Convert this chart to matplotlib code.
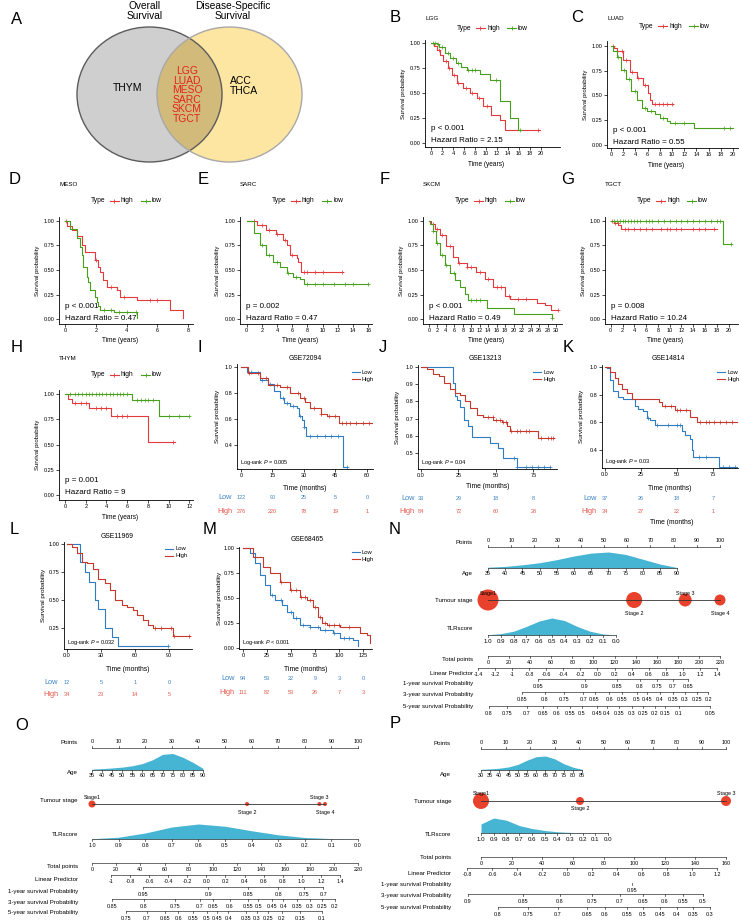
import numpy as np
import matplotlib.pyplot as plt
from matplotlib.lines import Line2D
from matplotlib.patches import Ellipse
import matplotlib.transforms as mtransforms

plt.rcParams['font.family'] = ['Liberation Sans', 'DejaVu Sans']
plt.rcParams['mathtext.fontset'] = 'custom'
plt.rcParams['mathtext.rm'] = 'Liberation Sans'
plt.rcParams['mathtext.it'] = 'Liberation Sans:italic'

# ---------------- Venn (panel A) ----------------
venn_left = 'THYM'
venn_both = ['LGG', 'LUAD', 'MESO', 'SARC', 'SKCM', 'TGCT']
venn_right = ['ACC', 'THCA']

# ---------------- TCGA survival curves (years) ----------------
lgg_high_t = [0, 0.5, 1.0, 1.6, 2.2, 3.0, 3.8, 4.7, 5.9, 7.1, 8.3, 9.5, 11.0, 12.5, 13.5, 19.8]
lgg_high_s = [1, 0.97, 0.93, 0.88, 0.82, 0.75, 0.68, 0.60, 0.55, 0.50, 0.45, 0.37, 0.28, 0.23, 0.13, 0.13]
lgg_low_t = [0, 1.0, 1.5, 2.5, 3.5, 4.5, 5.5, 6.5, 8.9, 10.7, 12.6, 14.4, 15.9, 16.5]
lgg_low_s = [1, 0.99, 0.96, 0.90, 0.85, 0.80, 0.76, 0.73, 0.69, 0.63, 0.42, 0.25, 0.13, 0.13]
lgg_high_c = [1.5, 2.7, 3.3, 4.2, 5.0, 6.3, 7.5, 8.7, 10.2, 19.5]
lgg_low_c = [0.3, 0.7, 1.2, 2.0, 3.0, 4.0, 5.0, 6.8, 7.4, 8.0, 11.8, 16.3]

luad_high_t = [0, 0.5, 0.9, 2.0, 3.1, 4.2, 5.3, 6.1, 6.4, 6.7, 10.2]
luad_high_s = [1, 0.98, 0.95, 0.86, 0.74, 0.67, 0.60, 0.52, 0.45, 0.41, 0.41]
luad_low_t = [0, 0.4, 0.9, 1.7, 2.5, 3.3, 4.2, 5.0, 5.9, 7.2, 8.0, 9.1, 9.7, 13.6, 20.0]
luad_low_s = [1, 0.95, 0.89, 0.76, 0.66, 0.54, 0.45, 0.37, 0.34, 0.31, 0.27, 0.24, 0.22, 0.175, 0.175]
luad_high_c = [0.3, 1.0, 1.8, 2.5, 3.5, 4.5, 5.5, 7.2, 7.8, 8.5, 9.2, 10.0]
luad_low_c = [1.2, 2.2, 3.0, 4.0, 5.5, 6.5, 8.5, 10.5, 12.0, 18.5, 19.5]

meso_high_t = [0, 0.1, 0.43, 0.76, 1.08, 1.3, 1.95, 2.16, 2.27, 2.49, 2.71, 3.36, 3.57, 4.66, 6.82, 7.64]
meso_high_s = [1, 0.95, 0.905, 0.84, 0.75, 0.68, 0.60, 0.53, 0.48, 0.40, 0.33, 0.30, 0.23, 0.20, 0.095, 0.01]
meso_low_t = [0, 0.3, 0.76, 1.0, 1.08, 1.2, 1.4, 1.5, 1.6, 1.95, 2.05, 2.16, 2.3, 3.2, 4.66]
meso_low_s = [1, 0.92, 0.82, 0.73, 0.65, 0.53, 0.43, 0.38, 0.30, 0.23, 0.18, 0.13, 0.095, 0.075, 0.01]
meso_high_c = [0.05, 2.0, 3.0, 3.8, 5.5, 6.0]
meso_low_c = [2.5, 3.0, 3.5, 4.0, 4.6]

sarc_high_t = [0, 1.3, 2.6, 3.9, 4.8, 5.3, 5.7, 6.6, 6.8, 7.2, 12.7]
sarc_high_s = [1, 0.96, 0.91, 0.86, 0.80, 0.75, 0.65, 0.62, 0.58, 0.48, 0.48]
sarc_low_t = [0, 0.9, 1.75, 2.6, 3.5, 4.4, 5.3, 6.1, 7.0, 7.5, 16.0]
sarc_low_s = [1, 0.87, 0.75, 0.65, 0.58, 0.53, 0.47, 0.43, 0.41, 0.36, 0.36]
sarc_high_c = [1.0, 2.0, 3.0, 4.0, 5.0, 6.0, 7.5, 8.0, 9.0, 10.0, 12.5]
sarc_low_c = [2.0, 3.0, 4.0, 5.5, 6.5, 8.0, 9.0, 10.0, 11.5, 13.0, 14.0, 16.0]

skcm_high_t = [0, 0.5, 1.35, 2.5, 4.1, 5.7, 6.9, 8.9, 11.2, 13.2, 15.2, 18.0, 19.2, 25.5, 27.5, 28.7, 30.2]
skcm_high_s = [1, 0.97, 0.92, 0.85, 0.74, 0.63, 0.57, 0.53, 0.48, 0.41, 0.33, 0.24, 0.21, 0.16, 0.14, 0.09, 0.09]
skcm_low_t = [0, 0.3, 0.95, 1.7, 2.5, 3.7, 4.9, 6.1, 7.3, 8.5, 9.3, 13.6, 20.0, 29.0]
skcm_low_s = [1, 0.97, 0.90, 0.77, 0.65, 0.55, 0.47, 0.40, 0.33, 0.26, 0.20, 0.11, 0.05, 0.01]
skcm_high_c = [1, 2, 3, 5, 7, 9, 10, 12, 14, 16, 17, 19, 21, 23, 30.5]
skcm_low_c = [1, 2, 3, 4, 6, 10, 11, 12, 29]

tgct_high_t = [0, 0.6, 1.3, 1.8, 18.0]
tgct_high_s = [1, 0.98, 0.96, 0.92, 0.92]
tgct_low_t = [0, 19.0, 20.4]
tgct_low_s = [1, 0.76, 0.76]
tgct_high_c = [0.3, 0.8, 1.2, 2.5, 3, 4, 5, 6, 7, 8.5, 9.5, 10, 11, 12, 14, 15, 16, 17.5]
tgct_low_c = [0.5, 1, 1.5, 2, 2.5, 3, 3.5, 4, 4.5, 5, 6, 6.5, 7, 8, 9, 10, 11, 12, 13, 14, 15, 16, 17, 18, 18.5, 20.4]

thym_high_t = [0, 0.3, 0.64, 2.3, 4.4, 8.0, 10.6]
thym_high_s = [1, 0.95, 0.91, 0.86, 0.78, 0.53, 0.53]
thym_low_t = [0, 6.43, 9.1, 12.0]
thym_low_s = [1, 0.94, 0.78, 0.78]
thym_high_c = [1.0, 1.5, 2.0, 3.0, 3.5, 4.0, 5.0, 5.5, 6.0, 10.4]
thym_low_c = [0.5, 1, 1.3, 1.6, 2, 2.3, 2.6, 3, 3.3, 3.6, 4, 4.3, 4.6, 5, 5.3, 5.6, 6, 7, 7.3, 7.7, 8, 8.5, 10, 11, 12]

# ---------------- GEO survival curves (months) ----------------
g72_low_t = [0, 2.7, 9.1, 13.1, 15.5, 18.7, 20.3, 23.5, 26.7, 27.5, 29.1, 29.9, 31.2, 48.8, 50.7]
g72_low_s = [1, 0.96, 0.90, 0.87, 0.81, 0.76, 0.72, 0.70, 0.68, 0.62, 0.59, 0.54, 0.47, 0.233, 0.233]
g72_high_t = [0, 3.3, 9.0, 13.0, 18.7, 23.5, 28.3, 30.7, 33.1, 37.9, 41.1, 46.7, 62.7]
g72_high_s = [1, 0.95, 0.91, 0.86, 0.84, 0.80, 0.76, 0.73, 0.68, 0.64, 0.62, 0.57, 0.57]
g72_low_c = [5, 10, 14, 20, 22, 25, 28, 30, 33, 36, 40, 43, 46, 50.5]
g72_high_c = [4, 8, 12, 17, 22, 27, 30, 35, 38, 42, 45, 48, 50, 52, 55, 58, 61]
g72_risk_t = [0, 15, 30, 45, 60]
g72_risk_low = [122, 90, 25, 5, 0]
g72_risk_high = [276, 220, 78, 19, 1]

g13_low_t = [0, 21.1, 22.7, 24.2, 26.0, 28.7, 31.6, 33.8, 46.0, 51.6, 54.9, 63.8, 86.0]
g13_low_s = [1, 0.905, 0.83, 0.81, 0.77, 0.69, 0.66, 0.595, 0.556, 0.53, 0.47, 0.42, 0.42]
g13_high_t = [0, 4.0, 8.2, 12.0, 15.5, 19.3, 22.7, 26.0, 29.3, 32.7, 37.1, 41.6, 48.2, 53.8, 57.1, 59.3, 78.1, 89.0]
g13_high_s = [1, 0.99, 0.96, 0.95, 0.905, 0.87, 0.85, 0.84, 0.80, 0.76, 0.72, 0.71, 0.69, 0.68, 0.66, 0.63, 0.59, 0.59]
g13_low_c = [62, 64, 70, 74, 78, 82, 86]
g13_high_c = [45, 48, 50, 53, 55, 57, 60, 64, 66, 70, 72, 80, 85, 87, 88]
g13_risk_t = [0, 25, 50, 75]
g13_risk_low = [33, 29, 18, 8]
g13_risk_high = [84, 72, 60, 28]

g14_low_t = [0, 1.2, 3.5, 5.8, 9.3, 12.7, 20.8, 23.1, 26.6, 28.9, 31.3, 34.7, 53.2, 55.6, 59.0, 60.2, 61.3, 79.4, 91.4]
g14_low_s = [1, 0.99, 0.906, 0.83, 0.785, 0.77, 0.72, 0.70, 0.68, 0.63, 0.62, 0.58, 0.54, 0.51, 0.48, 0.40, 0.35, 0.28, 0.28]
g14_high_t = [0, 3.5, 6.9, 9.3, 11.6, 15.0, 18.5, 37.5, 39.8, 48.6, 59.0, 63.6, 91.4]
g14_high_s = [1, 0.966, 0.92, 0.88, 0.845, 0.81, 0.77, 0.75, 0.72, 0.69, 0.64, 0.60, 0.60]
g14_low_c = [30, 36, 44, 50, 52, 65, 70, 82, 86, 90]
g14_high_c = [42, 46, 50, 52, 56, 66, 70, 72, 76, 80, 84, 88]
g14_risk_t = [0, 25, 50, 75]
g14_risk_low = [37, 26, 18, 7]
g14_risk_high = [34, 27, 22, 1]

g11_low_t = [0, 11.5, 15.9, 19.7, 24.7, 27.7, 33.5, 39.4, 45.3, 89.4]
g11_low_s = [1, 0.836, 0.75, 0.66, 0.50, 0.42, 0.25, 0.17, 0.09, 0.09]
g11_high_t = [0, 4.2, 8.6, 13.0, 17.4, 23.2, 27.7, 33.5, 38.0, 42.3, 48.2, 52.6, 58.5, 61.5, 67.4, 71.8, 76.2, 93.9, 108.6]
g11_high_s = [1, 0.97, 0.917, 0.84, 0.83, 0.78, 0.69, 0.65, 0.59, 0.50, 0.455, 0.44, 0.41, 0.37, 0.32, 0.28, 0.25, 0.18, 0.18]
g11_low_c = [89.4]
g11_high_c = [78, 83, 92, 94, 108]
g11_risk_t = [0, 30, 60, 90]
g11_risk_low = [12, 5, 1, 0]
g11_risk_high = [34, 23, 14, 5]

g68_low_t = [0, 7.3, 12.5, 17.7, 22.9, 28.1, 33.3, 40.3, 45.5, 52.4, 59.4, 69.8, 80.2, 94.1, 101.0, 114.9, 120.1]
g68_low_s = [1, 0.947, 0.847, 0.73, 0.63, 0.53, 0.48, 0.43, 0.36, 0.30, 0.23, 0.21, 0.18, 0.15, 0.10, 0.08, 0.02]
g68_high_t = [0, 10.8, 21.2, 28.1, 38.5, 49.0, 59.4, 66.3, 73.3, 78.5, 81.9, 87.2, 101.0, 121.9, 128.8, 132.3]
g68_high_s = [1, 0.913, 0.813, 0.747, 0.663, 0.58, 0.513, 0.48, 0.413, 0.313, 0.247, 0.23, 0.207, 0.147, 0.13, 0.047]
g68_low_c = [30, 40, 50, 55, 62, 70, 78, 85, 95, 105, 110]
g68_high_c = [40, 50, 55, 60, 65, 70, 75, 80, 85, 90, 95, 100, 110]
g68_risk_t = [0, 25, 50, 75, 100, 125]
g68_risk_low = [94, 53, 22, 9, 3, 0]
g68_risk_high = [111, 82, 53, 26, 7, 3]

# ---------------- Nomograms ----------------
# N
n_age_vals = [35, 40, 45, 50, 55, 60, 65, 70, 75, 80, 85, 90]
n_age_dens = [0.05, 0.1, 0.2, 0.33, 0.52, 0.75, 0.93, 1.0, 0.85, 0.55, 0.25, 0.03]
n_age_pts_end = 81.5
n_stage_names = ['Stage1', 'Stage 2', 'Stage 3', 'Stage 4']
n_stage_pts = [0, 63, 85, 100]
n_stage_r = [10.5, 8, 6.5, 5.5]
n_tlr_vals = [1.0, 0.9, 0.8, 0.7, 0.6, 0.5, 0.4, 0.3, 0.2, 0.1, 0.0]
n_tlr_dens = [0.02, 0.08, 0.22, 0.5, 0.82, 1.0, 0.85, 0.5, 0.22, 0.06, 0.01]
n_tlr_pts_end = 55
n_total_max = 220
n_lp_labels = ['-1.4', '-1.2', '-1', '-0.8', '-0.6', '-0.4', '-0.2', '0.0', '0.2', '0.4', '0.6', '0.8', '1.0', '1.2', '1.4']
n_lp_total_end = [-9.5, 217.1]
n_1y_vals = [0.95, 0.9, 0.85, 0.8, 0.75, 0.7, 0.65]
n_1y_total = [47.4, 92, 122.3, 144.1, 160.2, 175.4, 189.6]
n_3y_vals = [0.85, 0.8, 0.75, 0.7, 0.65, 0.6, 0.55, 0.5, 0.45, 0.4, 0.35, 0.3, 0.25, 0.2]
n_3y_total = [31.9, 54, 72.3, 90.3, 101, 115, 127, 141, 151, 163, 175.7, 186.8, 197.8, 208.8]
n_5y_vals = [0.8, 0.75, 0.7, 0.65, 0.6, 0.55, 0.5, 0.45, 0.4, 0.35, 0.3, 0.25, 0.2, 0.15, 0.1, 0.05]
n_5y_total = [0.9, 18, 37, 52.1, 65.4, 77.7, 89.1, 103.3, 112.8, 124.2, 136.5, 146.9, 158.3, 167.8, 181.1, 210.5]

# O
o_age_vals = [35, 40, 45, 50, 55, 60, 65, 70, 75, 80, 85, 90]
o_age_dens = [0.05, 0.08, 0.12, 0.17, 0.25, 0.38, 0.6, 0.92, 0.97, 0.75, 0.45, 0.1]
o_age_pts_end = 41.7
o_stage_names = ['Stage1', 'Stage 2', 'Stage 3', 'Stage 4']
o_stage_pts = [0, 58.3, 85.5, 87.6]
o_stage_r = [3.5, 2, 2, 2]
o_tlr_vals = [1.0, 0.9, 0.8, 0.7, 0.6, 0.5, 0.4, 0.3, 0.2, 0.1, 0.0]
o_tlr_dens = [0.02, 0.12, 0.4, 0.8, 1.0, 0.85, 0.55, 0.28, 0.1, 0.03, 0.0]
o_tlr_pts_end = 100
o_total_max = 220
o_lp_labels = ['-1', '-0.8', '-0.6', '-0.4', '-0.2', '0.0', '0.2', '0.4', '0.6', '0.8', '1.0', '1.2', '1.4']
o_lp_total_end = [15.7, 205.1]
o_1y_vals = [0.95, 0.9, 0.85, 0.8, 0.75, 0.7]
o_1y_total = [42.4, 96.2, 129.3, 154.1, 175.6, 191.3]
o_3y_vals = [0.85, 0.8, 0.75, 0.7, 0.65, 0.6, 0.55, 0.5, 0.45, 0.4, 0.35, 0.3, 0.25, 0.2]
o_3y_total = [16.3, 43, 68.6, 89.3, 100.3, 114.1, 129.3, 137.5, 148.6, 158.2, 169.3, 180.3, 189.9, 201]
o_5y_vals = [0.75, 0.7, 0.65, 0.6, 0.55, 0.5, 0.45, 0.4, 0.35, 0.3, 0.25, 0.2, 0.15, 0.1]
o_5y_total = [28.1, 45.2, 60.4, 71.4, 83.8, 94.9, 103.1, 112.7, 127.4, 136.2, 145.8, 156.9, 172, 190]

# P
p_age_vals = [30, 35, 40, 45, 50, 55, 60, 65, 70, 75, 80, 85]
p_age_dens = [0.05, 0.08, 0.13, 0.22, 0.4, 0.7, 0.95, 1.0, 0.8, 0.45, 0.2, 0.05]
p_age_pts_end = 41.3
p_stage_names = ['Stage1', 'Stage 2', 'Stage 3']
p_stage_pts = [0, 40.4, 100]
p_stage_r = [8, 4, 5]
p_tlr_vals = [1.0, 0.9, 0.8, 0.7, 0.6, 0.5, 0.4, 0.3, 0.2, 0.1, 0.0]
p_tlr_dens = [0.6, 1.0, 0.85, 0.5, 0.3, 0.17, 0.08, 0.04, 0.02, 0.01, 0.0]
p_tlr_pts_end = 51.9
p_total_max = 160
p_lp_labels = ['-0.8', '-0.6', '-0.4', '-0.2', '0.0', '0.2', '0.4', '0.6', '0.8', '1.0', '1.2']
p_lp_total_end = [-9.1, 154.1]
p_1y_vals = [0.95]
p_1y_total = [98.6]
p_3y_vals = [0.9, 0.85, 0.8, 0.75, 0.7, 0.65, 0.6, 0.55, 0.5]
p_3y_total = [-8.5, 27.4, 51.6, 72.5, 90.8, 105.8, 120.2, 131.9, 145]
p_5y_vals = [0.8, 0.75, 0.7, 0.65, 0.6, 0.55, 0.5, 0.45, 0.4, 0.35, 0.3]
p_5y_total = [11.1, 30.7, 50.3, 69.2, 81, 95.3, 105.8, 116.9, 128, 138.4, 149.5]

RED = '#E4393C'
GREEN = '#46A01C'
G_BLUE = '#2F7DC0'
G_RED = '#C6372C'
R_BLUE = '#3D84C6'
R_RED = '#E5574C'
DENS = '#46B4D3'
STAGE = '#E8412C'

W, H = 741, 922
fig = plt.figure(figsize=(W / 100, H / 100), dpi=100)


def px_axes(x0, y0, x1, y1):
    ax = fig.add_axes([x0 / W, 1 - y1 / H, (x1 - x0) / W, (y1 - y0) / H])
    ax.patch.set_alpha(0)
    return ax


def T(x, y, s, size=5, **kw):
    kw.setdefault('ha', 'center')
    kw.setdefault('va', 'center')
    fig.text(x / W, 1 - y / H, s, fontsize=size, **kw)


def hline(x0, x1, y, color, lw=0.8, marker=None):
    fig.add_artist(Line2D([x0 / W, x1 / W], [1 - y / H] * 2, transform=fig.transFigure,
                          color=color, lw=lw))
    if marker:
        fig.add_artist(Line2D([(x0 + x1) / 2 / W], [1 - y / H], transform=fig.transFigure,
                              color=color, marker=marker, ms=3, mew=0.6, lw=0))


def step_at(t, s, c):
    t = np.asarray(t)
    s = np.asarray(s)
    idx = np.searchsorted(t, c, side='right') - 1
    return s[np.clip(idx, 0, len(s) - 1)]


def style_axes(ax, lw=0.6):
    for sp in ['top', 'right']:
        ax.spines[sp].set_visible(False)
    for sp in ['left', 'bottom']:
        ax.spines[sp].set_linewidth(lw)
    ax.tick_params(labelsize=4.0, length=2, width=0.5, pad=1)


# ---------------- panel A ----------------
ax = px_axes(0, 0, 370, 180)
ax.set_xlim(0, 370)
ax.set_ylim(180, 0)
ax.axis('off')
gray = Ellipse((149.5, 94.5), 145, 135, fc='#CFCFCF', ec='none')
yellow = Ellipse((229.5, 94.5), 145, 135, fc='#FDE6A2', ec='none')
ax.add_patch(gray)
ax.add_patch(yellow)
over = Ellipse((149.5, 94.5), 145, 135, fc='#D2BA7A', ec='none')
ax.add_patch(over)
over.set_clip_path(yellow)
ax.add_patch(Ellipse((149.5, 94.5), 145, 135, fill=False, ec='#5C5C5C', lw=1))
ax.add_patch(Ellipse((229.5, 94.5), 145, 135, fill=False, ec='#A8A8A8', lw=1))
ax.text(145, 11, 'Overall\nSurvival', ha='center', va='center', fontsize=7.3, linespacing=0.95)
ax.text(233, 11, 'Disease-Specific\nSurvival', ha='center', va='center', fontsize=7.3, linespacing=0.95)
ax.text(128, 88, venn_left, ha='center', va='center', fontsize=7.5)
ax.text(230, 86, '\n'.join(venn_right), ha='left', va='center', fontsize=7.5, linespacing=0.95)
ax.text(187, 95, '\n'.join(venn_both), ha='center', va='center', fontsize=7.5,
        color='#E0251E', linespacing=0.95)


# ---------------- TCGA KM panels ----------------
def tcga_km(rect, xlim, ylim, xticks, title, t_off, lg_off, high, low, c_high, c_low,
            ptxt, hrtxt, ann_dy=(18, 6)):
    x0, y0, x1, y1 = rect
    ax = px_axes(*rect)
    for (t, s), cens, col in [(high, c_high, RED), (low, c_low, GREEN)]:
        ax.step(t, s, where='post', color=col, lw=0.8)
        ax.plot(cens, step_at(t, s, cens), '+', color=col, ms=2.6, mew=0.5)
    ax.set_xlim(*xlim)
    ax.set_ylim(*ylim)
    ax.set_xticks(xticks)
    ax.set_yticks([0, 0.25, 0.5, 0.75, 1.0])
    ax.set_yticklabels(['0.00', '0.25', '0.50', '0.75', '1.00'])
    style_axes(ax)
    T(x0 - 22, (y0 + y1) / 2, 'Survival probability', size=4.3, rotation=90)
    T((x0 + x1) / 2 - 6, y1 + 17, 'Time (years)', size=4.7)
    T(x0, y0 - t_off, title, size=4.5, ha='left')
    ly = y0 - lg_off
    T(x0 + 32, ly, 'Type', size=4.8, ha='left')
    hline(x0 + 51, x0 + 60, ly, RED, marker='+')
    T(x0 + 62, ly, 'high', size=4.8, ha='left')
    hline(x0 + 82, x0 + 91, ly, GREEN, marker='+')
    T(x0 + 93, ly, 'low', size=4.8, ha='left')
    T(x0 + 6, y1 - ann_dy[0], ptxt, size=5.8, ha='left')
    T(x0 + 6, y1 - ann_dy[1], hrtxt, size=5.8, ha='left')
    return ax


tcga_km((425, 40, 560, 147), (-1.1, 23.5), (-0.04, 1.033), range(0, 21, 2), 'LGG', 21, 12,
        (lgg_high_t, lgg_high_s), (lgg_low_t, lgg_low_s), lgg_high_c, lgg_low_c,
        'p < 0.001', 'Hazard Ratio = 2.15')
tcga_km((607, 41, 738, 148), (-0.66, 20.8), (-0.03, 1.047), range(0, 21, 2), 'LUAD', 22, 15,
        (luad_high_t, luad_high_s), (luad_low_t, luad_low_s), luad_high_c, luad_low_c,
        'p < 0.001', 'Hazard Ratio = 0.55')
tcga_km((59, 217, 193, 324), (-0.39, 8.31), (-0.048, 1.037), range(0, 9, 2), 'MESO', 32, 16,
        (meso_high_t, meso_high_s), (meso_low_t, meso_low_s), meso_high_c, meso_low_c,
        'p < 0.001', 'Hazard Ratio = 0.47')
tcga_km((240, 217, 372, 324), (-0.88, 16.5), (-0.048, 1.037), range(0, 17, 2), 'SARC', 32, 16,
        (sarc_high_t, sarc_high_s), (sarc_low_t, sarc_low_s), sarc_high_c, sarc_low_c,
        'p = 0.002', 'Hazard Ratio = 0.47')
tcga_km((423, 217, 562, 324), (-1.4, 31.4), (-0.048, 1.037), range(0, 31, 2), 'SKCM', 32, 16,
        (skcm_high_t, skcm_high_s), (skcm_low_t, skcm_low_s), skcm_high_c, skcm_low_c,
        'p < 0.001', 'Hazard Ratio = 0.49')
tcga_km((605, 217, 738, 324), (-0.97, 21.6), (-0.048, 1.037), range(0, 21, 2), 'TGCT', 32, 16,
        (tgct_high_t, tgct_high_s), (tgct_low_t, tgct_low_s), tgct_high_c, tgct_low_c,
        'p = 0.008', 'Hazard Ratio = 10.24')
tcga_km((59, 390, 193, 500), (-0.58, 12.36), (-0.05, 1.043), range(0, 13, 2), 'THYM', 31, 15,
        (thym_high_t, thym_high_s), (thym_low_t, thym_low_s), thym_high_c, thym_low_c,
        'p = 0.001', 'Hazard Ratio = 9', ann_dy=(20, 8))


# ---------------- GEO KM panels ----------------
def geo_km(rect, xlim, ylim, xticks, xtl, yticks, ytl, title, title_xy, low, high, c_low, c_high,
           lr_txt, leg_xy, risk_t, r_low, r_high, risk_x, risk_y, time_y):
    x0, y0, x1, y1 = rect
    ax = px_axes(*rect)
    for (t, s), cens, col in [(low, c_low, G_BLUE), (high, c_high, G_RED)]:
        ax.step(t, s, where='post', color=col, lw=0.8)
        ax.plot(cens, step_at(t, s, cens), '+', color=col, ms=2.4, mew=0.5)
    ax.set_xlim(*xlim)
    ax.set_ylim(*ylim)
    ax.set_xticks(xticks)
    ax.set_xticklabels(xtl)
    ax.set_yticks(yticks)
    ax.set_yticklabels(ytl)
    style_axes(ax)
    T(x0 - 20, (y0 + y1) / 2, 'Survival probability', size=4.6, rotation=90)
    T((x0 + x1) / 2, time_y, 'Time (months)', size=4.9)
    T(title_xy[0], title_xy[1], title, size=4.9)
    ax.text(0.02, 0.06, lr_txt, transform=ax.transAxes, fontsize=4.0, ha='left', va='center')
    lx, ly = leg_xy
    hline(lx, lx + 8, ly, G_BLUE)
    T(lx + 10, ly, 'Low', size=4.2, ha='left')
    hline(lx, lx + 8, ly + 7, G_RED)
    T(lx + 10, ly + 7, 'High', size=4.2, ha='left')
    tr = mtransforms.blended_transform_factory(ax.transData, fig.transFigure)
    for vals, col, yy, name in [(r_low, R_BLUE, risk_y[0], 'Low'), (r_high, R_RED, risk_y[1], 'High')]:
        T(risk_x, yy, name, size=5.3, ha='right', color=col)
        for tt, v in zip(risk_t, vals):
            ax.text(tt, 1 - yy / H, str(v), transform=tr, fontsize=4.0, color=col,
                    ha='center', va='center', clip_on=False)
    return ax


geo_km((237, 364, 373, 469), (-1.9, 62.9), (0.215, 1.02), g72_risk_t, [str(v) for v in g72_risk_t],
       [0.4, 0.6, 0.8, 1.0], ['0.4', '0.6', '0.8', '1.0'], 'GSE72094', (305, 358),
       (g72_low_t, g72_low_s), (g72_high_t, g72_high_s), g72_low_c, g72_high_c,
       'Log-rank $\\mathit{P}$ = 0.005', (352, 372), g72_risk_t, g72_risk_low, g72_risk_high,
       232, (497, 511), 488)
geo_km((418, 365, 557, 469), (-2, 90.7), (0.407, 1.012), [0, 25, 50, 75], ['0.0', '25', '50', '75'],
       [0.5, 0.6, 0.7, 0.8, 0.9, 1.0], ['0.5', '0.6', '0.7', '0.8', '0.9', '1.0'], 'GSE13213', (485, 358),
       (g13_low_t, g13_low_s), (g13_high_t, g13_high_s), g13_low_c, g13_high_c,
       'Log-rank $\\mathit{P}$ = 0.04', (533, 372), g13_risk_t, g13_risk_low, g13_risk_high,
       415, (498, 511), 486)
geo_km((602, 365, 738, 468), (-2.1, 92.4), (0.27, 1.015), [0, 25, 50, 75], ['0.0', '25', '50', '75'],
       [0.4, 0.6, 0.8, 1.0], ['0.4', '0.6', '0.8', '1.0'], 'GSE14814', (668, 358),
       (g14_low_t, g14_low_s), (g14_high_t, g14_high_s), g14_low_c, g14_high_c,
       'Log-rank $\\mathit{P}$ = 0.03', (717, 372), g14_risk_t, g14_risk_low, g14_risk_high,
       597, (498, 511), 488)
T(672, 522, 'Time (months)', size=4.9)
geo_km((64, 542, 192, 649), (-2.6, 110.3), (0.0625, 1.018), [0, 30, 60, 90], ['0.0', '30', '60', '90'],
       [0.25, 0.5, 0.75, 1.0], ['0.25', '0.50', '0.75', '1.00'], 'GSE11969', (117, 537),
       (g11_low_t, g11_low_s), (g11_high_t, g11_high_s), g11_low_c, g11_high_c,
       'Log-rank $\\mathit{P}$ = 0.032', (165, 549), g11_risk_t, g11_risk_low, g11_risk_high,
       58, (682, 694), 669)
geo_km((239, 547, 372, 649), (-4.2, 134.4), (-0.01, 1.01), g68_risk_t, [str(v) for v in g68_risk_t],
       [0, 0.25, 0.5, 0.75, 1.0], ['0.00', '0.25', '0.50', '0.75', '1.00'], 'GSE68465', (307, 539),
       (g68_low_t, g68_low_s), (g68_high_t, g68_high_s), g68_low_c, g68_high_c,
       'Log-rank $\\mathit{P}$ < 0.001', (352, 552), g68_risk_t, g68_risk_low, g68_risk_high,
       235, (678, 692), 669)


# ---------------- nomograms ----------------
def lin(v, v0, v1, p0, p1):
    return p0 + (np.asarray(v, dtype=float) - v0) / (v1 - v0) * (p1 - p0)


def scale(ax, pos, labels, y, up=False, dy=6, fs=3.9, line=True, col='#333333'):
    if line:
        ax.plot([min(pos), max(pos)], [y, y], color=col, lw=0.5, clip_on=False)
    d = -1 if up else 1
    for p, s in zip(pos, labels):
        ax.plot([p, p], [y, y + 1.8 * d], color=col, lw=0.5, clip_on=False)
        ax.text(p, y + dy * d, s, ha='center', va='center', fontsize=fs, clip_on=False)


def nomogram(x0, x100, y0, y1, lab_x, rows, age, stage, tlr, tmax, lp, y1s, y3s, y5s):
    ax = px_axes(x0, y0, x100, y1)
    ax.set_xlim(0, 100)
    ax.set_ylim(y1, y0)
    ax.axis('off')
    fs_lab = 4.4

    def label(y, s):
        ax.text(lab_x, y, s, ha='right', va='center', fontsize=fs_lab, clip_on=False)

    # Points
    label(rows['points'][0], 'Points')
    pp = list(range(0, 101, 10))
    scale(ax, pp, [str(v) for v in pp], rows['points'][1], up=True, dy=7)
    # Age
    vals, dens, pend, hmax = age
    pos = lin(vals, vals[0], vals[-1], 0, pend)
    base = rows['age'][1]
    ax.fill_between(pos, base, base - hmax * np.asarray(dens), color=DENS, lw=0, clip_on=False)
    scale(ax, pos, [str(v) for v in vals], base, dy=5.5)
    label(rows['age'][0], 'Age')
    # Tumour stage
    names, spts, srad, offs = stage
    ys = rows['stage'][1]
    ax.scatter(spts, [ys] * len(spts), s=[(2 * r * 0.72) ** 2 for r in srad], color=STAGE,
               lw=0, zorder=2, clip_on=False)
    ax.plot([0, max(spts)], [ys, ys], color='#333333', lw=0.6, zorder=3, clip_on=False)
    for i, (nm, p) in enumerate(zip(names, spts)):
        dy = -offs[0] if i % 2 == 0 else offs[1]
        ax.text(p, ys + dy, nm, ha='center', va='center', fontsize=3.9, clip_on=False)
    label(rows['stage'][0], 'Tumour stage')
    # TLRscore
    vals, dens, pend, hmax = tlr
    pos = lin(vals, 1.0, 0.0, 0, pend)
    base = rows['tlr'][1]
    ax.fill_between(pos, base, base - hmax * np.asarray(dens), color=DENS, lw=0, clip_on=False)
    scale(ax, pos, ['%.1f' % v for v in vals], base, dy=6, fs=4.4 if pend < 60 else 3.9)
    label(rows['tlr'][0], 'TLRscore')
    # Total points
    tt = list(range(0, tmax + 1, 20))
    scale(ax, lin(tt, 0, tmax, 0, 100), [str(v) for v in tt], rows['total'][1], dy=6)
    label(rows['total'][0], 'Total points')
    # Linear predictor
    lp_labels, lp_end = lp
    lp_pos = np.linspace(lp_end[0], lp_end[1], len(lp_labels)) * 100 / tmax
    scale(ax, lp_pos, lp_labels, rows['lp'][1], dy=6)
    label(rows['lp'][0], 'Linear Predictor')
    for key, (vals, tot), name in [('y1', y1s, '1-year survival Probability'),
                                   ('y3', y3s, '3-year survival Probability'),
                                   ('y5', y5s, '5-year survival Probability')]:
        pos = np.asarray(tot) * 100 / tmax
        scale(ax, pos, ['%g' % v for v in vals], rows[key][1], dy=7, line=len(vals) > 1)
        label(rows[key][0], name)
    return ax


nomogram(488, 720, 520, 722, -6.5,
         {'points': (542, 547), 'age': (573, 568), 'stage': (600, 600), 'tlr': (628, 635),
          'total': (659, 656), 'lp': (673, 668), 'y1': (683, 679), 'y3': (694, 692), 'y5': (706, 706)},
         (n_age_vals, n_age_dens, n_age_pts_end, 16),
         (n_stage_names, n_stage_pts, n_stage_r, (7, 13)),
         (n_tlr_vals, n_tlr_dens, n_tlr_pts_end, 17),
         n_total_max, (n_lp_labels, n_lp_total_end),
         (n_1y_vals, n_1y_total), (n_3y_vals, n_3y_total), (n_5y_vals, n_5y_total))

nomogram(92, 358, 700, 922, -5.3,
         {'points': (742, 748), 'age': (772, 770), 'stage': (800, 804), 'tlr': (834, 839),
          'total': (866, 863), 'lp': (879, 875), 'y1': (891, 887), 'y3': (902, 899), 'y5': (912, 911)},
         (o_age_vals, o_age_dens, o_age_pts_end, 17),
         (o_stage_names, o_stage_pts, o_stage_r, (7, 8)),
         (o_tlr_vals, o_tlr_dens, o_tlr_pts_end, 15),
         o_total_max, (o_lp_labels, o_lp_total_end),
         (o_1y_vals, o_1y_total), (o_3y_vals, o_3y_total), (o_5y_vals, o_5y_total))

nomogram(481, 726, 700, 922, -12.2,
         {'points': (743, 749), 'age': (774, 770), 'stage': (801, 801), 'tlr': (834, 833),
          'total': (857, 857), 'lp': (873, 868), 'y1': (884, 883), 'y3': (895, 894), 'y5': (907, 907)},
         (p_age_vals, p_age_dens, p_age_pts_end, 14),
         (p_stage_names, p_stage_pts, p_stage_r, (8, 7)),
         (p_tlr_vals, p_tlr_dens, p_tlr_pts_end, 15),
         p_total_max, (p_lp_labels, p_lp_total_end),
         (p_1y_vals, p_1y_total), (p_3y_vals, p_3y_total), (p_5y_vals, p_5y_total))

# panel letters
for letter, x, y in [('A', 17, 20), ('B', 395, 17), ('C', 577, 17), ('D', 15, 180), ('E', 203, 180),
                     ('F', 385, 180), ('G', 568, 180), ('H', 17, 347), ('I', 200, 347),
                     ('J', 383, 347), ('K', 568, 347), ('L', 14, 530), ('M', 210, 530),
                     ('N', 395, 530), ('O', 22, 725), ('P', 395, 723)]:
    T(x, y, letter, size=12)

fig.savefig('out.png', dpi=100)
